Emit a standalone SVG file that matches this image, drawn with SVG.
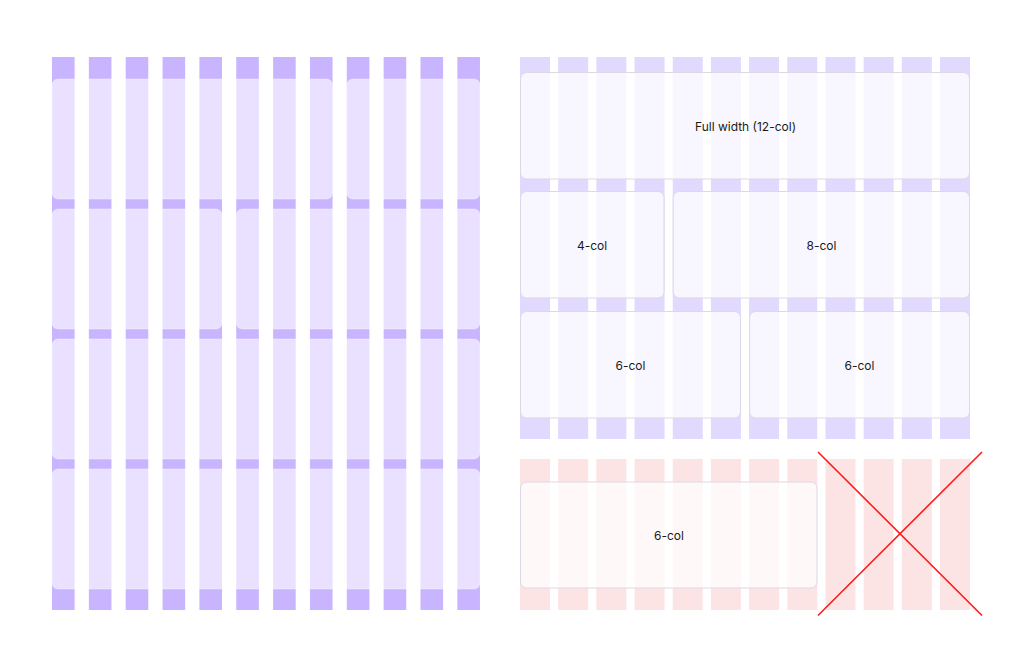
<svg xmlns="http://www.w3.org/2000/svg" width="1024" height="659" viewBox="0 0 1024 659">
<style>
.lc{fill:#C9B4FF}
.lcard{fill:#FFFFFF;fill-opacity:0.6;stroke:#FFFFFF;stroke-opacity:0.35;stroke-width:1}
.rc{fill:#E2D9FF}
.pc{fill:#FDE4E4}
.rcard{fill:#FFFFFF;fill-opacity:0.76;stroke:#DDD8E6;stroke-width:1}
.pcard{fill:#FFFFFF;fill-opacity:0.72;stroke:#DDD8E6;stroke-width:1}
.lbl{font-family:Inter,"Liberation Sans",sans-serif;font-size:12px;fill:#1A1A1A;text-anchor:middle;dominant-baseline:central}
.x{stroke:#FF1A1A;stroke-width:1.6;fill:none}
</style>
<rect width="1024" height="659" fill="#FFFFFF"/>
<g id="left-grid">
<g id="left-columns">
<rect class="lc" x="52" y="57" width="22.6" height="553"/>
<rect class="lc" x="88.85" y="57" width="22.6" height="553"/>
<rect class="lc" x="125.7" y="57" width="22.6" height="553"/>
<rect class="lc" x="162.55" y="57" width="22.6" height="553"/>
<rect class="lc" x="199.4" y="57" width="22.6" height="553"/>
<rect class="lc" x="236.25" y="57" width="22.6" height="553"/>
<rect class="lc" x="273.1" y="57" width="22.6" height="553"/>
<rect class="lc" x="309.95" y="57" width="22.6" height="553"/>
<rect class="lc" x="346.8" y="57" width="22.6" height="553"/>
<rect class="lc" x="383.65" y="57" width="22.6" height="553"/>
<rect class="lc" x="420.5" y="57" width="22.6" height="553"/>
<rect class="lc" x="457.35" y="57" width="22.6" height="553"/>
</g>
<g id="left-card-r1a"><rect class="lcard" x="52" y="79" width="280.5" height="120" rx="6"/></g>
<g id="left-card-r1b"><rect class="lcard" x="346.8" y="79" width="133.2" height="120" rx="6"/></g>
<g id="left-card-r2a"><rect class="lcard" x="52" y="209" width="170" height="120" rx="6"/></g>
<g id="left-card-r2b"><rect class="lcard" x="236.25" y="209" width="243.7" height="120" rx="6"/></g>
<g id="left-card-r3"><rect class="lcard" x="52" y="339" width="428" height="120" rx="6"/></g>
<g id="left-card-r4"><rect class="lcard" x="52" y="469" width="428" height="120" rx="6"/></g>
</g>
<g id="right-top-grid">
<g id="right-top-columns">
<rect class="rc" x="520" y="57" width="30" height="382"/>
<rect class="rc" x="558.18" y="57" width="30" height="382"/>
<rect class="rc" x="596.36" y="57" width="30" height="382"/>
<rect class="rc" x="634.55" y="57" width="30" height="382"/>
<rect class="rc" x="672.73" y="57" width="30" height="382"/>
<rect class="rc" x="710.91" y="57" width="30" height="382"/>
<rect class="rc" x="749.09" y="57" width="30" height="382"/>
<rect class="rc" x="787.27" y="57" width="30" height="382"/>
<rect class="rc" x="825.45" y="57" width="30" height="382"/>
<rect class="rc" x="863.64" y="57" width="30" height="382"/>
<rect class="rc" x="901.82" y="57" width="30" height="382"/>
<rect class="rc" x="940" y="57" width="30" height="382"/>
</g>
<g id="card-full">
<rect class="rcard" x="520.5" y="72.5" width="449" height="106.5" rx="6"/>
<text class="lbl" x="745.5" y="126">Full width (12-col)</text>
</g>
<g id="card-4col">
<rect class="rcard" x="520.5" y="191.5" width="143.5" height="106.5" rx="6"/>
<text class="lbl" x="592" y="245">4-col</text>
</g>
<g id="card-8col">
<rect class="rcard" x="673.2" y="191.5" width="296.3" height="106.5" rx="6"/>
<text class="lbl" x="821.5" y="245">8-col</text>
</g>
<g id="card-6col-a">
<rect class="rcard" x="520.5" y="311.5" width="220" height="106.5" rx="6"/>
<text class="lbl" x="630.5" y="365">6-col</text>
</g>
<g id="card-6col-b">
<rect class="rcard" x="749.6" y="311.5" width="219.9" height="106.5" rx="6"/>
<text class="lbl" x="859.5" y="365">6-col</text>
</g>
</g>
<g id="right-bottom-grid">
<g id="right-bottom-columns">
<rect class="pc" x="520" y="459" width="30" height="151"/>
<rect class="pc" x="558.18" y="459" width="30" height="151"/>
<rect class="pc" x="596.36" y="459" width="30" height="151"/>
<rect class="pc" x="634.55" y="459" width="30" height="151"/>
<rect class="pc" x="672.73" y="459" width="30" height="151"/>
<rect class="pc" x="710.91" y="459" width="30" height="151"/>
<rect class="pc" x="749.09" y="459" width="30" height="151"/>
<rect class="pc" x="787.27" y="459" width="30" height="151"/>
<rect class="pc" x="825.45" y="459" width="30" height="151"/>
<rect class="pc" x="863.64" y="459" width="30" height="151"/>
<rect class="pc" x="901.82" y="459" width="30" height="151"/>
<rect class="pc" x="940" y="459" width="30" height="151"/>
</g>
<g id="card-6col-wrong">
<rect class="pcard" x="520.5" y="482" width="296.5" height="106" rx="6"/>
<text class="lbl" x="669" y="535">6-col</text>
</g>
</g>
<g id="connectors">
<line class="x" x1="818" y1="452" x2="982" y2="615.5"/>
<line class="x" x1="982" y1="452" x2="818" y2="615.5"/>
</g>
</svg>
